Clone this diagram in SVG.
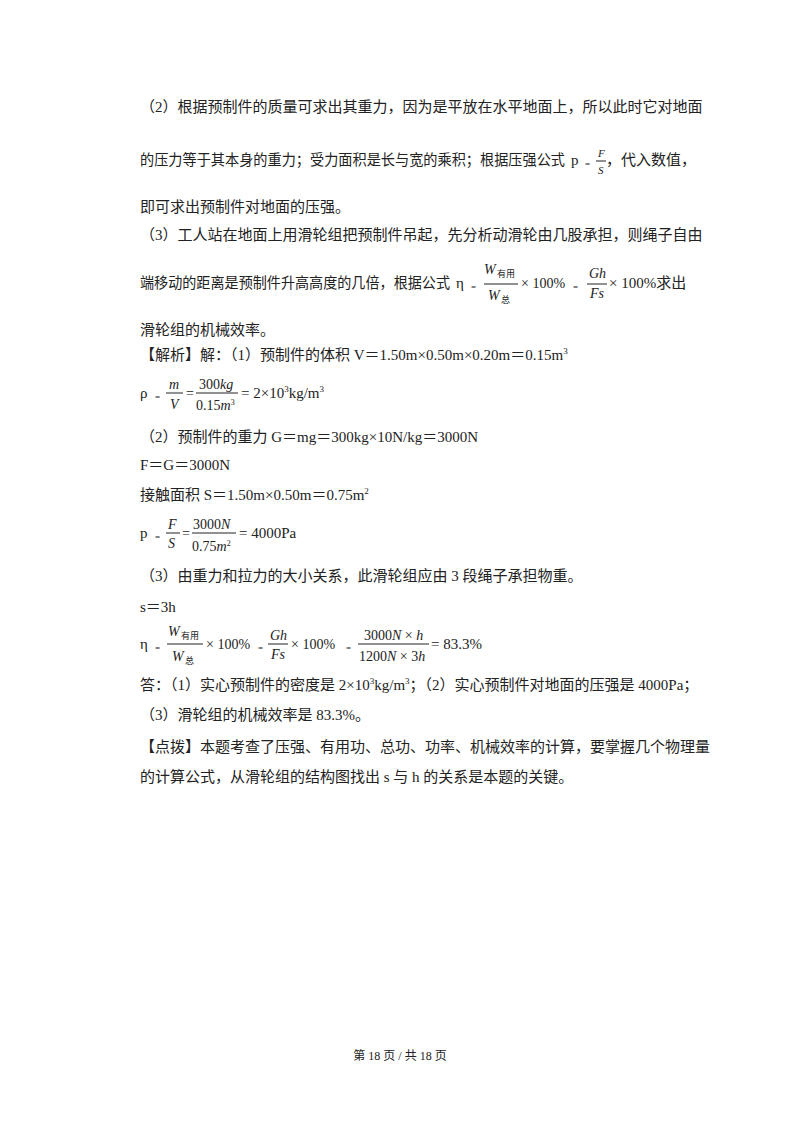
<svg xmlns="http://www.w3.org/2000/svg" width="800" height="1132" viewBox="0 0 800 1132">
<style>
text{font-family:"Liberation Serif","Noto Sans CJK SC",serif;font-size:15px;fill:#222}
.i{font-style:italic}
.s{font-size:9px}
.f{font-size:14px}
line{stroke:#222;stroke-width:1}
</style>
<rect width="800" height="1132" fill="#fff"/>
<text x="140" y="112">（2）根据预制件的质量可求出其重力，因为是平放在水平地面上，所以此时它对地面</text>
<text x="140" y="165" textLength="425" lengthAdjust="spacingAndGlyphs">的压力等于其本身的重力；受力面积是长与宽的乘积；根据压强公式</text>
<text x="571" y="165">p</text>
<text x="585" y="167" class="s">=</text>
<text x="598" y="157" class="i s" style="font-size:11px">F</text><line x1="596" y1="161" x2="606" y2="161"/><text x="598" y="174" class="i s" style="font-size:11px">S</text>
<text x="606" y="165">，代入数值，</text>
<text x="140" y="212">即可求出预制件对地面的压强。</text>
<text x="140" y="240">（3）工人站在地面上用滑轮组把预制件吊起，先分析动滑轮由几股承担，则绳子自由</text>
<text x="140" y="288" textLength="310" lengthAdjust="spacingAndGlyphs">端移动的距离是预制件升高高度的几倍，根据公式</text>
<text x="456" y="288">η</text>
<text x="471" y="290" class="s">=</text>
<text x="484" y="274" class="i f">W</text><text x="497" y="277" class="s">有用</text>
<line x1="484" y1="284" x2="518" y2="284"/>
<text x="488" y="300" class="i f">W</text><text x="501" y="303" class="s">总</text>
<text x="521" y="288" class="f">× 100%</text>
<text x="573" y="290" class="s">=</text>
<text x="589" y="278" class="i f">Gh</text><line x1="587" y1="284" x2="607" y2="284"/><text x="590" y="298" class="i f">Fs</text>
<text x="609" y="288">× 100%求出</text>
<text x="140" y="335">滑轮组的机械效率。</text>
<text x="140" y="360">【解析】解：（1）预制件的体积 V＝1.50m×0.50m×0.20m＝0.15m<tspan dy="-6" font-size="9">3</tspan></text>
<text x="140" y="398">ρ</text><text x="155" y="400" class="s">=</text>
<text x="169" y="389" class="i f">m</text><line x1="166" y1="393" x2="183" y2="393"/><text x="170" y="409" class="i f">V</text>
<text x="186" y="398" class="f">=</text>
<text x="199" y="389" class="f">300<tspan class="i">kg</tspan></text><line x1="196" y1="393" x2="238" y2="393"/>
<text x="196" y="410" class="f">0.15<tspan class="i">m</tspan><tspan dy="-5" font-size="8">3</tspan></text>
<text x="241" y="398">= 2×10<tspan dy="-6" font-size="9">3</tspan><tspan dy="6">kg/m</tspan><tspan dy="-6" font-size="9">3</tspan></text>
<text x="140" y="442">（2）预制件的重力 G＝mg＝300kg×10N/kg＝3000N</text>
<text x="140" y="470">F＝G＝3000N</text>
<text x="140" y="500">接触面积 S＝1.50m×0.50m＝0.75m<tspan dy="-6" font-size="9">2</tspan></text>
<text x="140" y="538">p</text><text x="155" y="540" class="s">=</text>
<text x="168" y="529" class="i f">F</text><line x1="166" y1="533" x2="180" y2="533"/><text x="168" y="548" class="i f">S</text>
<text x="182" y="538" class="f">=</text>
<text x="193" y="529" class="f">3000<tspan class="i">N</tspan></text><line x1="192" y1="533" x2="236" y2="533"/>
<text x="192" y="551" class="f">0.75<tspan class="i">m</tspan><tspan dy="-5" font-size="8">2</tspan></text>
<text x="239" y="538">= 4000Pa</text>
<text x="140" y="581">（3）由重力和拉力的大小关系，此滑轮组应由 3 段绳子承担物重。</text>
<text x="140" y="612">s＝3h</text>
<text x="140" y="649">η</text><text x="155" y="651" class="s">=</text>
<text x="168" y="636" class="i f">W</text><text x="181" y="639" class="s">有用</text>
<line x1="167" y1="644" x2="203" y2="644"/>
<text x="172" y="661" class="i f">W</text><text x="185" y="664" class="s">总</text>
<text x="206" y="649" class="f">× 100%</text>
<text x="258" y="651" class="s">=</text>
<text x="270" y="640" class="i f">Gh</text><line x1="268" y1="644" x2="288" y2="644"/><text x="271" y="659" class="i f">Fs</text>
<text x="291" y="649" class="f">× 100%</text>
<text x="346" y="651" class="s">=</text>
<text x="364" y="640" class="f">3000<tspan class="i">N</tspan> × <tspan class="i">h</tspan></text>
<line x1="358" y1="644" x2="429" y2="644"/>
<text x="359" y="661" class="f">1200<tspan class="i">N</tspan> × 3<tspan class="i">h</tspan></text>
<text x="431" y="649">= 83.3%</text>
<text x="140" y="690">答：（1）实心预制件的密度是 2×10<tspan dy="-6" font-size="9">3</tspan><tspan dy="6">kg/m</tspan><tspan dy="-6" font-size="9">3</tspan><tspan dy="6">；（2）实心预制件对地面的压强是 4000Pa；</tspan></text>
<text x="140" y="720">（3）滑轮组的机械效率是 83.3%。</text>
<text x="140" y="752">【点拨】本题考查了压强、有用功、总功、功率、机械效率的计算，要掌握几个物理量</text>
<text x="140" y="782">的计算公式，从滑轮组的结构图找出 s 与 h 的关系是本题的关键。</text>
<text x="400" y="1060" text-anchor="middle" style="font-size:12px">第 18 页 / 共 18 页</text>
</svg>
